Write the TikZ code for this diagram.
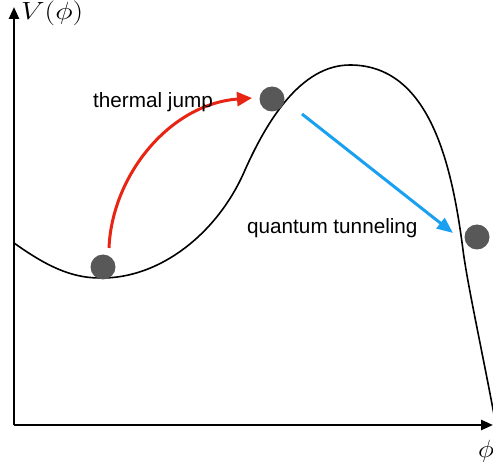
\documentclass[tikz,border=0pt]{standalone}
\usepackage{fontspec}
\setmainfont{Liberation Sans}
\usetikzlibrary{arrows.meta}
\definecolor{jumpred}{RGB}{232,36,20}
\definecolor{tunnelblue}{RGB}{26,160,240}
\definecolor{ballgray}{RGB}{88,88,88}
\begin{document}
\begin{tikzpicture}[x=1pt,y=-1pt,
  axis/.style={line width=2.5pt,-{Triangle[length=12pt,width=10pt]}},
  potential/.style={line width=1.6pt},
  ball/.style={circle,fill=ballgray,minimum size=25pt,inner sep=0pt},
  jumparrow/.style={line width=3pt,draw=jumpred,-{Triangle[length=15pt,width=14pt]}},
  tunnelarrow/.style={line width=3pt,draw=tunnelblue,-{Triangle[length=16pt,width=13pt]}},
  lbl/.style={inner sep=0pt,font=\fontsize{20.7}{24}\selectfont},
  mathlbl/.style={inner sep=0pt,font=\fontsize{27}{30}\selectfont},
  philbl/.style={inner sep=0pt,font=\fontsize{35}{38}\selectfont}]
\useasboundingbox (0,0) rectangle (493,465);
\coordinate (origin) at (14,425);
\coordinate (ytip) at (14,7);
\coordinate (xtip) at (493,425);
\draw[axis] (origin) -- (ytip);
\draw[axis] (origin) -- (xtip);
\node[mathlbl,anchor=base west] (vlabel) at (21,20) {\scalebox{1.2}[1]{$V(\phi)$}};
\node[philbl,anchor=base west] (philabel) at (478,457) {\scalebox{1.1}[1]{$\phi$}};
\coordinate (p0) at (14,243);
\coordinate (pmin) at (100,278);
\coordinate (pinf) at (245,170);
\coordinate (pmax) at (350,65);
\coordinate (pfall) at (463,250);
\coordinate (pend) at (495,420);
\draw[potential] (p0) .. controls (45,265) and (70,278) .. (pmin)
  .. controls (160,279) and (218,233) .. (pinf)
  .. controls (266,123) and (300,65) .. (pmax)
  .. controls (430,65) and (452,165) .. (pfall)
  .. controls (467.5,285) and (483,355) .. (pend);
\node[ball] (b1) at (103,267) {};
\node[ball] (b2) at (272,99) {};
\node[ball] (b3) at (477,237) {};
\coordinate (jstart) at (109,248);
\coordinate (jend) at (252,98);
\draw[jumparrow] (jstart) .. controls (112,175) and (170,104) .. (jend);
\coordinate (tstart) at (302,114);
\coordinate (tend) at (453,233);
\draw[tunnelarrow] (tstart) -- (tend);
\node[lbl,anchor=base west] (thermal) at (93,108) {thermal jump};
\node[lbl,anchor=base west] (quantum) at (247,234) {quantum tunneling};
\end{tikzpicture}
\end{document}
